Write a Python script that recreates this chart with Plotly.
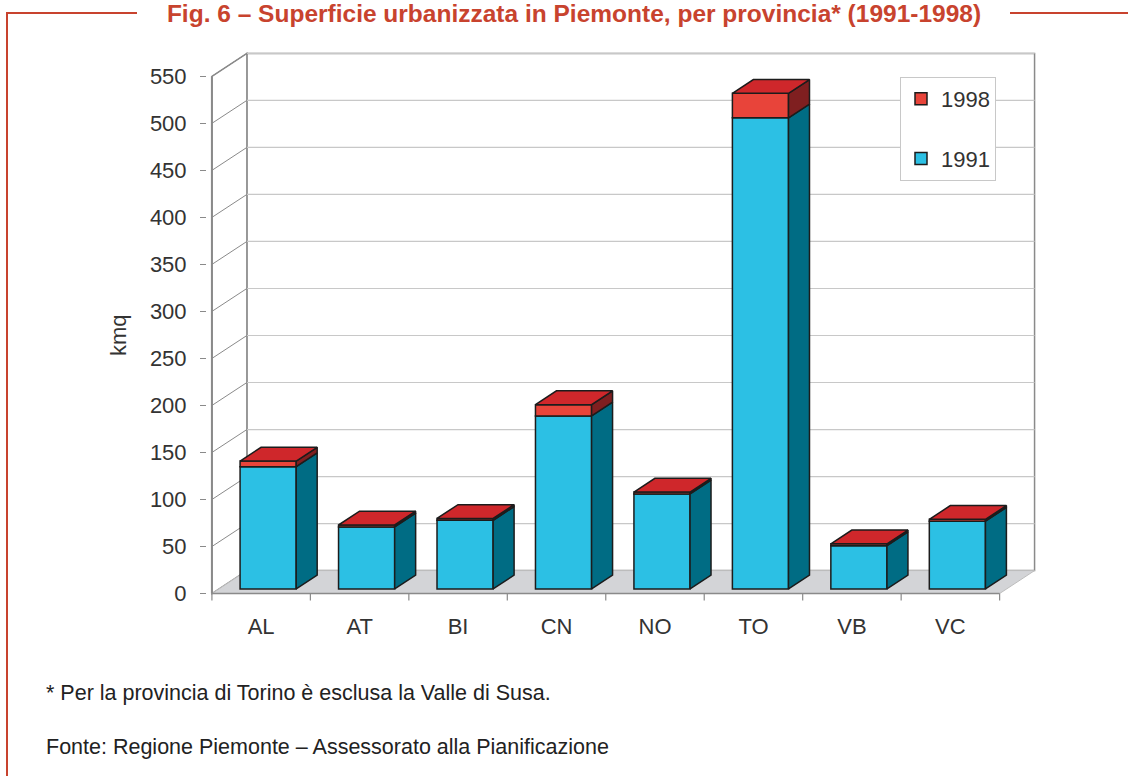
import plotly.graph_objects as go

# ---------------- data ----------------
categories = ["AL", "AT", "BI", "CN", "NO", "TO", "VB", "VC"]
kmq_1991 = [130, 66, 73, 184, 101, 501, 46, 72]
kmq_1998_increase = [6, 2, 2, 12, 2, 26, 2, 2]
y_ticks = [0, 50, 100, 150, 200, 250, 300, 350, 400, 450, 500, 550]
series_names = ["1991", "1998"]

title_text = "Fig. 6 – Superficie urbanizzata in Piemonte, per provincia* (1991-1998)"
note_text = "* Per la provincia di Torino è esclusa la Valle di Susa."
source_text = "Fonte: Regione Piemonte – Assessorato alla Pianificazione"

# ---------------- layout geometry ----------------
W, H = 1128, 776
ML, MR, MT, MB = 207, 89, 50, 174
X_RANGE = [-0.55, 7.9]
Y_RANGE = [-9, 578]
DX, DY = 0.355, 24.4        # depth of the 3D box (axis units)
F1, F2 = 0.2, 0.8           # depth position of bar front / back
BW = 0.57                   # bar width
X0, X1 = -0.5, 7.5          # floor front edge
YMAX = 550

PW = W - ML - MR
PH = H - MT - MB


def px_x(p):
    return (p - ML) / PW


def px_y(p):
    return (H - MB - p) / PH


FONT = "Liberation Sans, Arial, Helvetica, sans-serif"
FS = 22
BLUE, BLUE_SIDE = "#2cc0e4", "#006c84"
RED, RED_TOP, RED_SIDE = "#e8443a", "#cf272b", "#7f1f20"
EDGE = "#1c1c1c"
GRID = "#c8c8c8"
AXIS = "#8a8a8a"
TITLE_RED = "#c8432e"
TXT = "#333333"

fig = go.Figure()

# ---------------- bar front faces ----------------
xpos = [i + F1 * DX for i in range(len(categories))]
base0 = F1 * DY
top1991 = [base0 + v for v in kmq_1991]

fig.add_trace(go.Bar(
    x=xpos, y=kmq_1991, base=[base0] * len(categories), width=BW,
    name=series_names[0], marker=dict(color=BLUE, line=dict(color=EDGE, width=1.5)),
    legendgroup="a", legendrank=2, hoverinfo="skip"))
fig.add_trace(go.Bar(
    x=xpos, y=kmq_1998_increase, base=top1991, width=BW,
    name=series_names[1], marker=dict(color=RED, line=dict(color=EDGE, width=1.5)),
    legendgroup="b", legendrank=1, hoverinfo="skip"))

# ---------------- bar side & top faces ----------------
dX = (F2 - F1) * DX
dY = (F2 - F1) * DY


def poly(xs, ys, fill):
    fig.add_trace(go.Scatter(
        x=xs + [xs[0]], y=ys + [ys[0]], mode="lines", fill="toself",
        fillcolor=fill, line=dict(color=EDGE, width=1.5),
        showlegend=False, hoverinfo="skip"))


for i, (v1, v2) in enumerate(zip(kmq_1991, kmq_1998_increase)):
    xl = xpos[i] - BW / 2
    xr = xpos[i] + BW / 2
    y0 = base0
    y1 = base0 + v1
    y2 = y1 + v2
    poly([xr, xr, xr + dX, xr + dX], [y0, y1, y1 + dY, y0 + dY], BLUE_SIDE)
    poly([xr, xr, xr + dX, xr + dX], [y1, y2, y2 + dY, y1 + dY], RED_SIDE)
    poly([xl, xr, xr + dX, xl + dX], [y2, y2, y2 + dY, y2 + dY], RED_TOP)

# ---------------- walls, floor, grid (shapes) ----------------
shapes = []


def path(pts):
    return "M " + " L ".join(f"{x},{y}" for x, y in pts) + " Z"


shapes.append(dict(type="path", xref="x", yref="y", layer="below",
                   path=path([(X0 + DX, DY), (X1 + DX, DY), (X1 + DX, YMAX + DY), (X0 + DX, YMAX + DY)]),
                   fillcolor="white", line=dict(color=AXIS, width=1.5)))
shapes.append(dict(type="path", xref="x", yref="y", layer="below",
                   path=path([(X0, 0), (X0, YMAX), (X0 + DX, YMAX + DY), (X0 + DX, DY)]),
                   fillcolor="white", line=dict(color=AXIS, width=1.5)))
shapes.append(dict(type="path", xref="x", yref="y", layer="below",
                   path=path([(X0, 0), (X1, 0), (X1 + DX, DY), (X0 + DX, DY)]),
                   fillcolor="#d3d4d7", line=dict(color="#bdbdbd", width=1)))
for t in y_ticks[1:]:
    shapes.append(dict(type="line", xref="x", yref="y", layer="below",
                       x0=X0 + DX, x1=X1 + DX, y0=t + DY, y1=t + DY,
                       line=dict(color=GRID, width=1.2)))
    shapes.append(dict(type="line", xref="x", yref="y", layer="below",
                       x0=X0, x1=X0 + DX, y0=t, y1=t + DY,
                       line=dict(color=AXIS, width=1)))
shapes.append(dict(type="line", xref="x", yref="y", layer="below",
                   x0=X0, x1=X0, y0=0, y1=YMAX, line=dict(color=AXIS, width=2)))
shapes.append(dict(type="line", xref="x", yref="y", layer="below",
                   x0=X0, x1=X1, y0=0, y1=0, line=dict(color=AXIS, width=1.5)))
for k in range(len(categories) + 1):
    b = X0 + k
    shapes.append(dict(type="line", xref="x", yref="y", layer="below",
                       x0=b, x1=b, y0=0, y1=-7.5, line=dict(color=AXIS, width=1.2)))

# red frame
shapes.append(dict(type="line", xref="paper", yref="paper",
                   x0=px_x(6), x1=px_x(137), y0=px_y(13), y1=px_y(13),
                   line=dict(color=TITLE_RED, width=2)))
shapes.append(dict(type="line", xref="paper", yref="paper",
                   x0=px_x(1010), x1=px_x(1128), y0=px_y(13), y1=px_y(13),
                   line=dict(color=TITLE_RED, width=2)))
shapes.append(dict(type="line", xref="paper", yref="paper",
                   x0=px_x(7), x1=px_x(7), y0=px_y(12), y1=px_y(776),
                   line=dict(color=TITLE_RED, width=2)))

annotations = [
    dict(text="kmq", xref="paper", yref="paper", x=px_x(118), y=px_y(335),
         xanchor="center", yanchor="middle",
         textangle=-90, showarrow=False, font=dict(family=FONT, size=FS, color=TXT)),
    dict(text=note_text, xref="paper", yref="paper", x=px_x(44), y=px_y(693),
         xanchor="left", yanchor="middle", showarrow=False,
         font=dict(family=FONT, size=21.5, color="#222222")),
    dict(text=source_text, xref="paper", yref="paper", x=px_x(44), y=px_y(747),
         xanchor="left", yanchor="middle", showarrow=False,
         font=dict(family=FONT, size=21.5, color="#222222")),
]

fig.update_layout(
    width=W, height=H,
    margin=dict(l=ML, r=MR, t=MT, b=MB),
    paper_bgcolor="white", plot_bgcolor="white",
    barmode="overlay",
    title=dict(text=f"<b>{title_text}</b>", x=574 / W, xanchor="center",
               y=1 - 13 / H, yanchor="middle",
               font=dict(family=FONT, size=24.5, color=TITLE_RED)),
    xaxis=dict(range=X_RANGE, showgrid=False, zeroline=False, showline=False,
               tickvals=list(range(len(categories))), ticktext=categories,
               ticks="", ticklabelstandoff=9,
               tickfont=dict(family=FONT, size=FS, color=TXT)),
    yaxis=dict(range=Y_RANGE, showgrid=False, zeroline=False, showline=False,
               tickvals=y_ticks, ticks="outside", ticklen=6, tickcolor=AXIS,
               tickwidth=1.2, ticklabelstandoff=9,
               tickfont=dict(family=FONT, size=FS, color=TXT)),
    legend=dict(x=px_x(900), y=px_y(77), xanchor="left", yanchor="top",
                traceorder="grouped", tracegroupgap=28,
                bordercolor="#c8c8c8", borderwidth=1, bgcolor="white",
                font=dict(family=FONT, size=FS, color=TXT)),
    shapes=shapes, annotations=annotations,
    showlegend=True,
)

fig.write_html(
    "out.html",
    config={"displayModeBar": False},
    post_script="document.body.style.margin='0';document.body.style.overflow='hidden';",
)
